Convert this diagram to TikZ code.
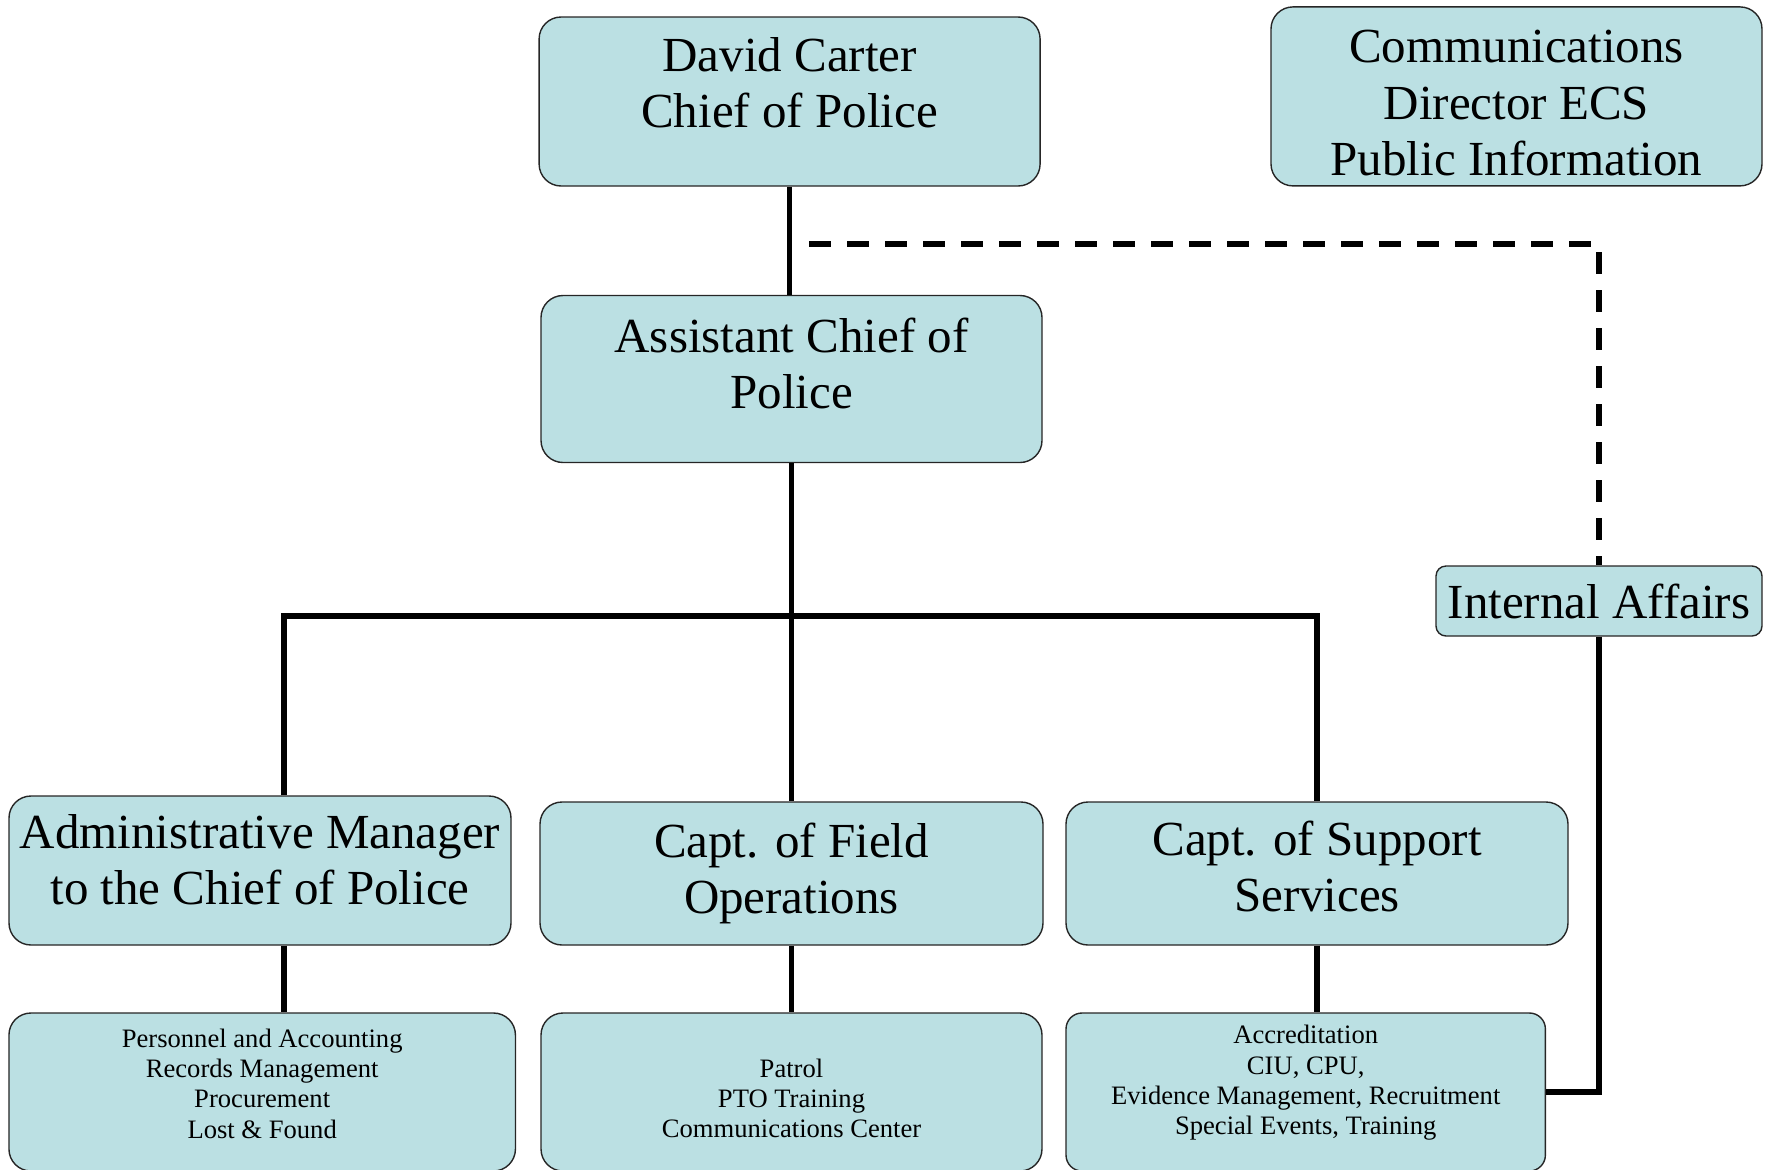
\documentclass[tikz,border=0pt]{standalone}
\usepackage{fontspec}
\setmainfont{Liberation Serif}
\definecolor{orgfill}{RGB}{187,224,227}
\newcommand{\padb}[1]{\rule[-#1]{0pt}{#1}}
\newcommand{\padt}[1]{\rule{0pt}{#1}}

\begin{document}
\begin{tikzpicture}[x=0.5pt,y=-0.5pt,
  unit/.style={draw=black!85,line width=0.7pt,fill=orgfill,rounded corners=11pt,align=center,inner sep=0pt,font=\fontsize{24.5}{28.2}\selectfont},
  task/.style={unit,font=\fontsize{13.3}{15.2}\selectfont},
  link/.style={line width=2.8pt},
  dashlink/.style={link,dash pattern=on 11pt off 8pt}]
\useasboundingbox (0,0) rectangle (1769,1169);
\node[unit,minimum width=250.5pt,minimum height=84.5pt] (chief) at (789.6,101.5)
 {David Carter\\Chief of Police\padb{19pt}};
\node[unit,minimum width=245.5pt,minimum height=89.5pt] (comms) at (1516.5,96.4)
 {\padt{23pt}Communications\\Director ECS\\Public Information};
\node[unit,minimum width=250.5pt,minimum height=83.5pt] (asst) at (791.5,379)
 {Assistant Chief of\\Police\padb{16pt}};
\node[unit,rounded corners=5pt,minimum width=163pt,minimum height=35pt] (ia) at (1599,601)
 {Internal Affairs};
\node[unit,minimum width=251pt,minimum height=74.5pt] (admin) at (260,870.5)
 {Administrative Manager\\to the Chief of Police\padb{11pt}};
\node[unit,minimum width=251.5pt,minimum height=71.5pt] (field) at (791.5,873.5)
 {Capt. of Field\\Operations};
\node[unit,minimum width=251pt,minimum height=71.5pt] (support) at (1317,873.5)
 {Capt. of Support\\Services\padb{7.5pt}};
\node[task,minimum width=253.25pt,minimum height=79pt] (admintasks) at (262.2,1092)
 {Personnel and Accounting\\Records Management\\Procurement\\Lost \& Found\padb{8.5pt}};
\node[task,minimum width=250.5pt,minimum height=79pt] (fieldtasks) at (791.5,1092)
 {\padt{15.6pt}Patrol\\PTO Training\\Communications Center};
\node[task,rounded corners=8pt,minimum width=239.7pt,minimum height=79pt] (supporttasks) at (1305.7,1092)
 {Accreditation\\CIU, CPU,\\Evidence Management, Recruitment\\Special Events, Training\padb{12pt}};
\coordinate (bus) at (791.5,616);
\coordinate (dstart) at (809,244);
\draw[link] (chief.south) -- (chief.south |- asst.north);
\draw[dashlink] (dstart) -| (ia);
\draw[link] (asst) -- (bus);
\draw[link] ([xshift=12pt]admin.north) |- (bus) -| (support);
\draw[link] (bus) -- (field);
\draw[link] ([xshift=12pt]admin.south) -- ([xshift=12pt]admin.south |- admintasks.north);
\draw[link] (field) -- (fieldtasks);
\draw[link] (support) -- (support |- supporttasks.north);
\draw[link] (ia) |- (supporttasks);
\end{tikzpicture}
\end{document}
